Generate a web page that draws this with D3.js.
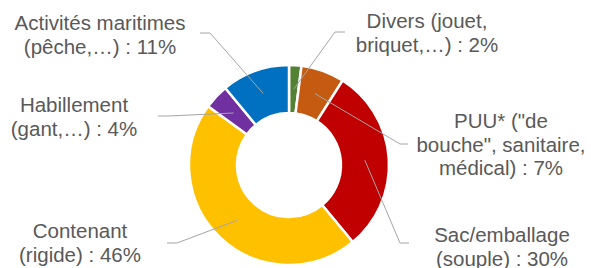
<!DOCTYPE html>
<html>
<head>
<meta charset="utf-8">
<script src="https://cdn.jsdelivr.net/npm/d3@7"></script>
<style>
  body { margin: 0; background: #fff; }
  svg { display: block; }
</style>
</head>
<body>
<div id="donut"></div>
<script>
// data
var categories = ["Divers", "PUU", "Sac/emballage", "Contenant", "Habillement", "Activités maritimes"];
var values = [2, 7, 30, 46, 4, 11];
var colors = ["#548235", "#C55A11", "#C00000", "#FFC000", "#7030A0", "#0070C0"];
var labelLines = [
  ["Divers (jouet,", "briquet,…) : 2%"],
  ["PUU* (\"de", "bouche\", sanitaire,", "médical) : 7%"],
  ["Sac/emballage", "(souple) : 30%"],
  ["Contenant", "(rigide) : 46%"],
  ["Habillement", "(gant,…) : 4%"],
  ["Activités maritimes", "(pêche,…) : 11%"]
];

// label layout: text center x, first baseline y, leader elbow and end
var labelLayout = [
  {cx: 427, y: 28,  elbow: [335, 32],  end: [345, 32]},
  {cx: 501, y: 128, elbow: [400, 144], end: [408, 144]},
  {cx: 502, y: 242, elbow: [400, 243], end: [409, 243]},
  {cx: 80,  y: 238, elbow: [177, 243], end: [167, 243]},
  {cx: 74,  y: 112, elbow: [168, 116], end: [158, 116]},
  {cx: 100, y: 30,  elbow: [210, 33],  end: [200, 33]}
];

var width = 591, height = 268;
var cx = 289, cy = 165, outerR = 100, innerR = 52;
var lineH = 23.5;

var svg = d3.select("#donut")
  .append("svg")
    .attr("width", width)
    .attr("height", height);

var g = svg.append("g")
  .attr("transform", "translate(" + cx + "," + cy + ")");

var pie = d3.pie().sort(null).value(function(d) { return d; });
var arcs = pie(values);

var arc = d3.arc()
  .innerRadius(innerR)
  .outerRadius(outerR);

g.selectAll("path.slice")
  .data(arcs)
  .enter()
  .append("path")
    .attr("class", "slice")
    .attr("d", arc)
    .attr("fill", function(d, i) { return colors[i]; })
    .attr("stroke", "#fff")
    .attr("stroke-width", 2.5)
    .attr("stroke-linejoin", "miter");

// leader lines
svg.selectAll("polyline.leader")
  .data(arcs)
  .enter()
  .append("polyline")
    .attr("class", "leader")
    .attr("fill", "none")
    .attr("stroke", "#A6A6A6")
    .attr("stroke-width", 1)
    .attr("points", function(d, i) {
      var c = arc.centroid(d);
      var L = labelLayout[i];
      return [[cx + c[0], cy + c[1]], L.elbow, L.end].map(function(p) { return p.join(","); }).join(" ");
    });

// labels
var labels = svg.selectAll("text.lbl")
  .data(labelLines)
  .enter()
  .append("text")
    .attr("class", "lbl")
    .attr("text-anchor", "middle")
    .attr("font-family", "'Liberation Sans', Arial, sans-serif")
    .attr("font-size", "20.5px")
    .attr("fill", "#595959");

labels.selectAll("tspan")
  .data(function(d, i) { return d.map(function(t) { return {t: t, i: i}; }); })
  .enter()
  .append("tspan")
    .attr("x", function(d) { return labelLayout[d.i].cx; })
    .attr("y", function(d, j) { return labelLayout[d.i].y + j * lineH; })
    .text(function(d) { return d.t; });
</script>
</body>
</html>
